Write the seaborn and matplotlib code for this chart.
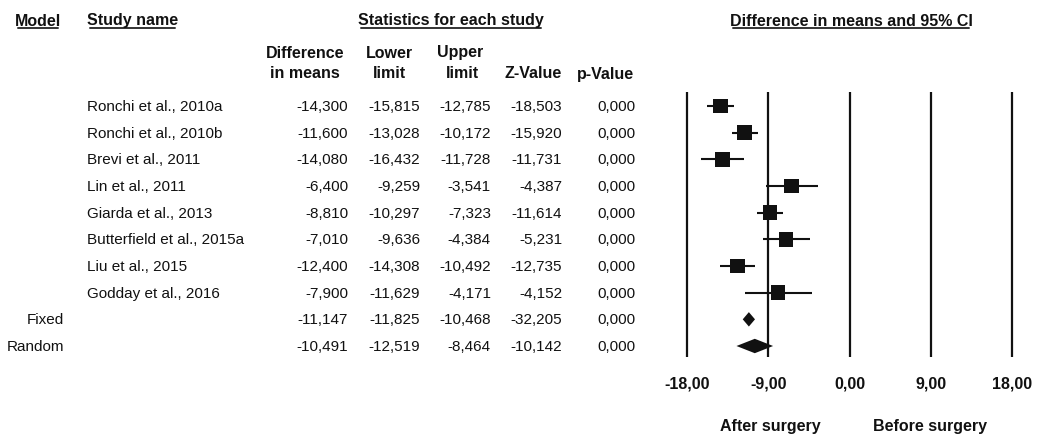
import pandas as pd
import seaborn as sns
import matplotlib.pyplot as plt
from matplotlib.lines import Line2D
from matplotlib.transforms import blended_transform_factory

# study level results
studies = ['Ronchi et al., 2010a', 'Ronchi et al., 2010b', 'Brevi et al., 2011',
           'Lin et al., 2011', 'Giarda et al., 2013', 'Butterfield et al., 2015a',
           'Liu et al., 2015', 'Godday et al., 2016']
diff = [-14.300, -11.600, -14.080, -6.400, -8.810, -7.010, -12.400, -7.900]
lower = [-15.815, -13.028, -16.432, -9.259, -10.297, -9.636, -14.308, -11.629]
upper = [-12.785, -10.172, -11.728, -3.541, -7.323, -4.384, -10.492, -4.171]
zval = [-18.503, -15.920, -11.731, -4.387, -11.614, -5.231, -12.735, -4.152]
pval = [0.000, 0.000, 0.000, 0.000, 0.000, 0.000, 0.000, 0.000]

# pooled results
models = ['Fixed', 'Random']
pool_diff = [-11.147, -10.491]
pool_lower = [-11.825, -12.519]
pool_upper = [-10.468, -8.464]
pool_z = [-32.205, -10.142]
pool_p = [0.000, 0.000]

xticks = [-18, -9, 0, 9, 18]

df = pd.DataFrame({'study': studies, 'diff': diff, 'lower': lower, 'upper': upper,
                   'z': zval, 'p': pval})
df['row'] = range(len(df))
pooled = pd.DataFrame({'model': models, 'diff': pool_diff, 'lower': pool_lower,
                       'upper': pool_upper, 'z': pool_z, 'p': pool_p})
pooled['row'] = range(len(df), len(df) + len(pooled))

sns.set_style('white')
plt.rcParams['font.family'] = ['Liberation Sans', 'DejaVu Sans']
ink = '#111111'

W, H = 1048, 439
fig = plt.figure(figsize=(W / 100, H / 100), dpi=100)
ax = fig.add_axes([680 / W, 1 - 358 / H, 339 / W, (358 - 93) / H])

# forest plot
for v in xticks:
    ax.axvline(v, color=ink, lw=1.6, zorder=1)
ax.hlines(df['row'], df['lower'], df['upper'], color=ink, lw=1.5, zorder=2)
sns.scatterplot(data=df, x='diff', y='row', marker='s', s=110, color=ink,
                edgecolor='none', ax=ax, zorder=3, legend=False)
half = 0.27
for _, r in pooled.iterrows():
    ax.fill([r['lower'], r['diff'], r['upper'], r['diff']],
            [r['row'], r['row'] - half, r['row'], r['row'] + half],
            color=ink, lw=0, zorder=3)

span = 7 / (325 / 36)
ax.set_xlim(-18 - span, 18 + span)
ax.set_ylim(9 + 11 / 26.67, -14 / 26.67)
ax.set_xticks(xticks)
ax.set_xticklabels([f'{v:.2f}'.replace('.', ',') for v in xticks],
                   fontsize=11.5, fontweight='bold', color=ink)
ax.tick_params(axis='x', length=0, pad=13.5)
ax.set_yticks([])
ax.set_xlabel('')
ax.set_ylabel('')
for s in ax.spines.values():
    s.set_visible(False)

# table
tr = blended_transform_factory(fig.transFigure, ax.transData)
fx = lambda px: px / W
fy = lambda py: 1 - py / H
fmt = lambda v: f'{v:.3f}'.replace('.', ',')
cols = [('diff', 348), ('lower', 420), ('upper', 491), ('z', 562), ('p', 635)]

for _, r in df.iterrows():
    ax.text(fx(87), r['row'], r['study'], transform=tr, ha='left', va='center',
            fontsize=11, color=ink)
    for c, xr in cols:
        ax.text(fx(xr), r['row'], fmt(r[c]), transform=tr, ha='right', va='center',
                fontsize=11, color=ink)
for _, r in pooled.iterrows():
    ax.text(fx(64), r['row'], r['model'], transform=tr, ha='right', va='center',
            fontsize=11, color=ink)
    for c, xr in cols:
        ax.text(fx(xr), r['row'], fmt(r[c]), transform=tr, ha='right', va='center',
                fontsize=11, color=ink)

# headers
heads = [fig.text(fx(15), fy(21), 'Model', ha='left', va='center'),
         fig.text(fx(87), fy(21), 'Study name', ha='left', va='center'),
         fig.text(fx(451), fy(21), 'Statistics for each study', ha='center', va='center'),
         fig.text(fx(851), fy(21), 'Difference in means and 95% CI', ha='center', va='center')]
for t in heads:
    t.set_fontsize(11.5)
    t.set_fontweight('bold')
    t.set_color(ink)

sub = [(305, 53, 'Difference'), (305, 74, 'in means'), (389, 53, 'Lower'),
       (389, 74, 'limit'), (460, 53, 'Upper'), (462, 74, 'limit'),
       (533, 74, 'Z-Value'), (606, 74, 'p-Value')]
for x, y, s in sub:
    fig.text(fx(x), fy(y), s, ha='center', va='center', fontsize=11.5,
             fontweight='bold', color=ink)

fig.text(fx(770), fy(427), 'After surgery', ha='center', va='center',
         fontsize=11.5, fontweight='bold', color=ink)
fig.text(fx(930), fy(427), 'Before surgery', ha='center', va='center',
         fontsize=11.5, fontweight='bold', color=ink)

# underline the header texts
fig.canvas.draw()
rend = fig.canvas.get_renderer()
for t in heads:
    bb = t.get_window_extent(rend)
    yl = fy(29)
    fig.add_artist(Line2D([(bb.x0 + 3) / W, (bb.x1 - 3) / W], [yl, yl],
                          color='#333333', lw=1.4))

fig.savefig('out.png', dpi=100)
